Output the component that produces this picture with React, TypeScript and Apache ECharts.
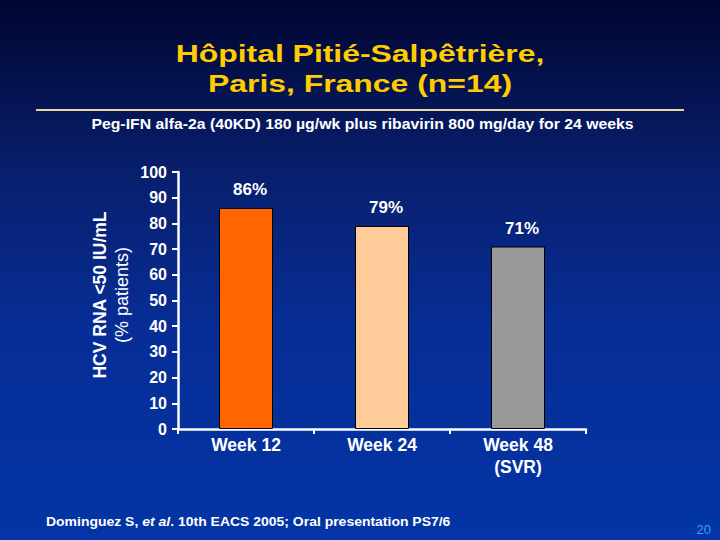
import React, { useEffect, useRef } from 'react';
import * as echarts from 'echarts';

const categories = ['Week 12', 'Week 24', 'Week 48\n(SVR)'];
const values = [86, 79, 71];
const barColors = ['#FF6600', '#FFCC99', '#999999'];
const yMin = 0;
const yMax = 100;
const yStep = 10;

const titleLines = ['Hôpital Pitié-Salpêtrière,', 'Paris, France (n=14)'];
const subtitle = 'Peg-IFN alfa-2a (40KD) 180 µg/wk plus ribavirin 800 mg/day for 24 weeks';
const yNameLines = ['HCV RNA <50 IU/mL', '(% patients)'];
const pageNumber = '20';

const FONT = '"Liberation Sans", Arial, Helvetica, sans-serif';

export default function App() {
  const ref = useRef<HTMLDivElement>(null);

  useEffect(() => {
    if (!ref.current) return;
    const chart = echarts.init(ref.current, null, { renderer: 'svg' });
    const option: any = {
      animation: false,
      backgroundColor: new echarts.graphic.LinearGradient(0, 0, 0, 1, [
        { offset: 0, color: '#010530' },
        { offset: 0.3, color: '#081E6A' },
        { offset: 0.6, color: '#072D95' },
        { offset: 1, color: '#0335A6' },
      ]),
      textStyle: { fontFamily: FONT },
      grid: { left: 178, right: 134, top: 172, bottom: 111 },
      xAxis: {
        type: 'category',
        data: categories,
        axisLine: { show: true, lineStyle: { color: '#FFFFFF', width: 2.5 } },
        axisTick: { show: true, length: 5, alignWithLabel: false, lineStyle: { color: '#FFFFFF', width: 2 } },
        axisLabel: {
          color: '#FFFFFF',
          fontSize: 17.5,
          fontWeight: 'bold',
          fontFamily: FONT,
          margin: 5,
          lineHeight: 22,
        },
        splitLine: { show: false },
      },
      yAxis: {
        type: 'value',
        min: yMin,
        max: yMax,
        interval: yStep,
        axisLine: { show: true, lineStyle: { color: '#FFFFFF', width: 2.5 } },
        axisTick: { show: true, length: 6, lineStyle: { color: '#FFFFFF', width: 2 } },
        axisLabel: {
          color: '#FFFFFF',
          fontSize: 16,
          fontWeight: 'bold',
          fontFamily: FONT,
          margin: 11,
        },
        splitLine: { show: false },
      },
      series: [
        {
          type: 'bar',
          data: values.map((v, i) => ({ value: v, itemStyle: { color: barColors[i] } })),
          barWidth: 54,
          itemStyle: { borderColor: '#000000', borderWidth: 1 },
          label: {
            show: true,
            position: 'top',
            distance: 10,
            offset: [4, 0],
            formatter: '{c}%',
            color: '#FFFFFF',
            fontSize: 17,
            fontWeight: 'bold',
            fontFamily: FONT,
          },
        },
      ],
      graphic: [
        {
          type: 'text',
          x: 360,
          y: 53.5,
          scaleX: 1.33,
          style: {
            text: titleLines[0],
            fill: '#FFCC00',
            font: `bold 24px ${FONT}`,
            align: 'center',
            verticalAlign: 'middle',
          },
        },
        {
          type: 'text',
          x: 360,
          y: 83.5,
          scaleX: 1.33,
          style: {
            text: titleLines[1],
            fill: '#FFCC00',
            font: `bold 24px ${FONT}`,
            align: 'center',
            verticalAlign: 'middle',
          },
        },
        {
          type: 'line',
          shape: { x1: 36, y1: 110, x2: 684, y2: 110 },
          style: { stroke: '#E6D6A0', lineWidth: 2 },
        },
        {
          type: 'text',
          x: 362.5,
          y: 123.5,
          scaleX: 1.13,
          style: {
            text: subtitle,
            fill: '#FFFFFF',
            font: `bold 14px ${FONT}`,
            align: 'center',
            verticalAlign: 'middle',
          },
        },
        {
          type: 'text',
          x: 99.5,
          y: 295,
          rotation: Math.PI / 2,
          style: {
            text: yNameLines[0],
            fill: '#FFFFFF',
            font: `bold 17.5px ${FONT}`,
            align: 'center',
            verticalAlign: 'middle',
          },
        },
        {
          type: 'text',
          x: 121.5,
          y: 295,
          rotation: Math.PI / 2,
          style: {
            text: yNameLines[1],
            fill: '#FFFFFF',
            font: `18px ${FONT}`,
            align: 'center',
            verticalAlign: 'middle',
          },
        },
        {
          type: 'text',
          x: 46,
          y: 522,
          scaleX: 1.075,
          style: {
            text: '{b|Dominguez S, }{i|et al}{b|. 10th EACS 2005; Oral presentation PS7/6}',
            fill: '#FFFFFF',
            align: 'left',
            verticalAlign: 'middle',
            rich: {
              b: { fontSize: 13, fontWeight: 'bold', fontFamily: FONT, fill: '#FFFFFF' },
              i: { fontSize: 13, fontWeight: 'bold', fontStyle: 'italic', fontFamily: FONT, fill: '#FFFFFF' },
            },
          },
        },
        {
          type: 'text',
          x: 711,
          y: 529.5,
          style: {
            text: pageNumber,
            fill: '#3AA2EE',
            font: `13px ${FONT}`,
            align: 'right',
            verticalAlign: 'middle',
          },
        },
      ],
    };
    chart.setOption(option);
    return () => chart.dispose();
  }, []);

  return (
    <div
      ref={ref}
      style={{ position: 'fixed', left: 0, top: 0, width: 720, height: 540 }}
    />
  );
}
